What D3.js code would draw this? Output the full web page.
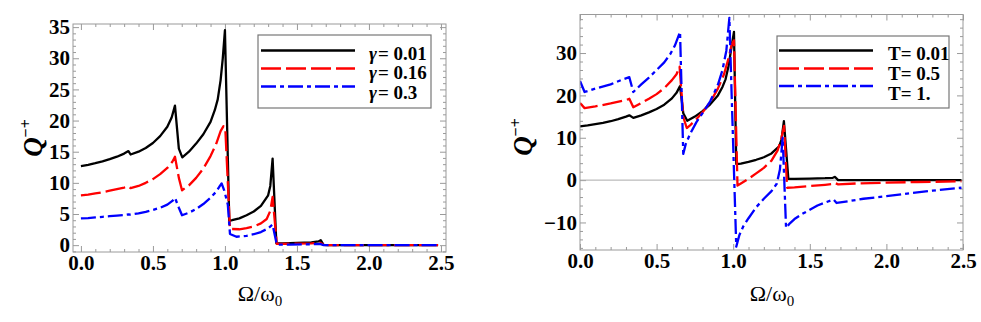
<!DOCTYPE html>
<html>
<head>
<meta charset="utf-8">
<script src="https://cdn.jsdelivr.net/npm/d3@7"></script>
<style>
  body { margin: 0; background: #fff; }
</style>
</head>
<body>
<svg id="chart" width="981" height="322"></svg>
<script>
"use strict";

// left panel: gamma series  [Omega/omega0, Q]
var gamma001 = [[0,12.7],[0.05,12.9],[0.1,13.15],[0.15,13.45],[0.2,13.8],[0.25,14.2],[0.3,14.7],[0.33,15.1],[0.345,14.55],[0.4,15.0],[0.45,15.6],[0.5,16.4],[0.55,17.5],[0.6,19.0],[0.63,20.5],[0.653,22.4],[0.68,15.5],[0.704,14.1],[0.75,15.0],[0.8,16.3],[0.85,17.8],[0.9,19.8],[0.93,21.7],[0.95,23.4],[0.97,26.5],[0.985,30],[1.0,34.5],[1.03,3.9],[1.05,4.0],[1.1,4.3],[1.15,4.8],[1.2,5.4],[1.25,6.3],[1.3,8.0],[1.315,9.5],[1.331,13.9],[1.357,0.3],[1.4,0.3],[1.5,0.35],[1.6,0.45],[1.65,0.6],[1.665,0.8],[1.685,0.05],[1.72,0],[2.48,0]];
var gamma016 = [[0,8.0],[0.05,8.1],[0.1,8.3],[0.15,8.5],[0.2,8.75],[0.25,9.0],[0.3,9.25],[0.33,9.45],[0.345,9.15],[0.4,9.5],[0.45,10.0],[0.5,10.6],[0.55,11.4],[0.6,12.4],[0.635,13.4],[0.653,14.2],[0.68,10.8],[0.702,8.8],[0.75,9.6],[0.8,10.8],[0.85,12.3],[0.9,14.3],[0.94,16.3],[0.97,18.3],[0.99,19.1],[1.003,18.5],[1.035,2.6],[1.1,2.55],[1.15,2.75],[1.2,3.0],[1.25,3.5],[1.29,4.2],[1.315,5.5],[1.331,7.75],[1.36,0.2],[1.4,0.2],[1.5,0.25],[1.6,0.3],[1.66,0.4],[1.685,0.05],[1.72,0],[2.48,0]];
var gamma03 = [[0,4.3],[0.05,4.35],[0.1,4.45],[0.15,4.55],[0.2,4.65],[0.25,4.75],[0.3,4.85],[0.33,4.95],[0.345,4.9],[0.4,5.1],[0.45,5.35],[0.5,5.65],[0.55,6.0],[0.6,6.5],[0.635,7.1],[0.653,7.6],[0.68,6.0],[0.702,4.8],[0.75,5.2],[0.8,5.8],[0.85,6.6],[0.9,7.6],[0.94,8.6],[0.965,9.5],[0.977,9.9],[0.995,8.8],[1.02,6.5],[1.035,1.8],[1.08,1.35],[1.15,1.5],[1.2,1.75],[1.25,2.1],[1.3,2.7],[1.331,3.3],[1.36,0.1],[1.45,0.1],[1.6,0.15],[1.66,0.2],[1.685,0],[2.48,0]];

// right panel: temperature series
var temp001 = [[0,12.7],[0.05,12.9],[0.1,13.2],[0.15,13.5],[0.2,13.9],[0.25,14.4],[0.3,15.0],[0.322,15.3],[0.348,14.7],[0.4,15.3],[0.45,16.0],[0.5,16.8],[0.55,17.8],[0.6,19.3],[0.63,20.6],[0.653,22.2],[0.674,15.8],[0.7,14.0],[0.75,15.0],[0.8,16.3],[0.85,17.9],[0.9,20.0],[0.93,22.0],[0.95,23.8],[0.97,27.0],[0.985,30.5],[1.005,35.0],[1.02,3.8],[1.05,3.9],[1.1,4.3],[1.15,4.8],[1.2,5.4],[1.25,6.3],[1.3,8.0],[1.315,9.5],[1.331,13.9],[1.36,0.3],[1.4,0.3],[1.5,0.35],[1.6,0.45],[1.65,0.55],[1.665,0.75],[1.685,0],[2.49,0]];
var temp05 = [[0,18.2],[0.03,17.0],[0.1,17.4],[0.2,18.1],[0.3,18.9],[0.322,19.2],[0.348,17.2],[0.4,18.2],[0.45,19.2],[0.5,20.3],[0.55,21.7],[0.6,23.6],[0.63,25.0],[0.65,26.8],[0.674,14.9],[0.697,12.3],[0.72,13.0],[0.75,14.0],[0.8,16.0],[0.85,18.4],[0.9,21.6],[0.94,25.0],[0.97,28.8],[0.99,32.0],[1.005,33.0],[1.028,-1.3],[1.05,-0.8],[1.1,0.3],[1.15,1.6],[1.2,2.9],[1.25,4.6],[1.29,7.0],[1.315,10.0],[1.332,12.8],[1.352,-1.8],[1.4,-1.7],[1.5,-1.4],[1.6,-1.1],[1.655,-0.9],[1.665,-0.7],[1.685,-1.0],[1.8,-0.8],[2.0,-0.6],[2.2,-0.45],[2.49,-0.3]];
var temp1 = [[0,23.4],[0.03,20.8],[0.1,21.6],[0.2,22.6],[0.28,23.8],[0.322,24.3],[0.348,20.8],[0.4,22.6],[0.45,24.2],[0.5,26.0],[0.55,27.8],[0.59,29.8],[0.62,31.8],[0.653,35.0],[0.674,6.2],[0.69,8.5],[0.72,11.0],[0.76,13.7],[0.8,15.8],[0.85,18.6],[0.9,22.5],[0.93,26.0],[0.955,30.5],[0.975,38.3],[0.99,20],[1.02,-15.7],[1.04,-13.0],[1.066,-10.9],[1.1,-9.0],[1.15,-6.4],[1.2,-4.4],[1.25,-2.6],[1.285,-0.8],[1.305,2.5],[1.323,10.0],[1.345,-11.3],[1.37,-10.2],[1.4,-9.2],[1.45,-8.0],[1.5,-7.0],[1.55,-6.0],[1.6,-5.3],[1.655,-4.6],[1.675,-5.4],[1.75,-5.0],[1.85,-4.4],[2.0,-3.8],[2.15,-3.1],[2.3,-2.5],[2.49,-1.8]];

var gammaLabels = ["0.01", "0.16", "0.3"];
var tempLabels = ["0.01", "0.5", "1."];

var xMajor = [0, 0.5, 1.0, 1.5, 2.0, 2.5];
var leftYMajor = [0, 5, 10, 15, 20, 25, 30, 35];
var rightYMajor = [-10, 0, 10, 20, 30];

var colors = ["#000000", "#ff0000", "#0000ff"];
var dashes = [null, "20,5", "15,4,4,4"];
var frameColor = "#9a9a9a";
var serif = '"Liberation Serif", "Times New Roman", Times, serif';

var svg = d3.select("#chart");

function range(a, b, step) {
  var out = [];
  for (var i = 0; a + i * step <= b + 1e-9; i++) out.push(+(a + i * step).toFixed(3));
  return out;
}

function panel(opt) {
  var x = d3.scaleLinear().domain(opt.xDomain).range([opt.left, opt.right]);
  var y = d3.scaleLinear().domain(opt.yDomain).range([opt.bottom, opt.top]);
  var g = svg.append("g");

  var xMinor = range(0, 2.5, 0.1).filter(v => xMajor.indexOf(v) < 0);
  var yMinor = opt.yMinor.filter(v => opt.yMajor.indexOf(v) < 0);

  function ticks(axisFn, scale, vals, size, pos, labels, fmt) {
    var a = axisFn(scale).tickValues(vals).tickSizeInner(-size).tickSizeOuter(0).tickPadding(labels ? opt.pad : 0)
      .tickFormat(labels ? fmt : "");
    var ax = g.append("g").attr("transform", pos).call(a);
    ax.select(".domain").remove();
    ax.attr("font-family", null).attr("font-size", null);
    ax.selectAll("line").attr("stroke", frameColor);
    ax.selectAll("text").attr("font-size", 21).attr("font-weight", "bold").attr("fill", "#000");
    if (!labels) ax.selectAll("text").remove();
    return ax;
  }

  var fx = d3.format(".1f"), fy = d3.format("d");
  ticks(d3.axisBottom, x, xMajor, 6, "translate(0," + opt.bottom + ")", true, fx);
  ticks(d3.axisBottom, x, xMinor, 3, "translate(0," + opt.bottom + ")", false);
  ticks(d3.axisTop, x, xMajor, 6, "translate(0," + opt.top + ")", false);
  ticks(d3.axisTop, x, xMinor, 3, "translate(0," + opt.top + ")", false);
  ticks(d3.axisLeft, y, opt.yMajor, 6, "translate(" + opt.left + ",0)", true, fy);
  ticks(d3.axisLeft, y, yMinor, 3, "translate(" + opt.left + ",0)", false);
  ticks(d3.axisRight, y, opt.yMajor, 6, "translate(" + opt.right + ",0)", false);
  ticks(d3.axisRight, y, yMinor, 3, "translate(" + opt.right + ",0)", false);

  var clipId = "clip" + opt.id;
  svg.append("clipPath").attr("id", clipId).append("rect")
    .attr("x", opt.left).attr("y", opt.top).attr("width", opt.right - opt.left).attr("height", opt.bottom - opt.top);

  if (opt.zeroLine) {
    g.append("line").attr("x1", opt.left).attr("x2", opt.right)
      .attr("y1", y(0)).attr("y2", y(0)).attr("stroke", "#aaaaaa").attr("stroke-width", 1);
  }

  var line = d3.line().x(d => x(d[0])).y(d => y(d[1]));
  var curves = g.append("g").attr("clip-path", "url(#" + clipId + ")");
  opt.series.forEach(function (s, i) {
    curves.append("path").datum(s)
      .attr("d", line)
      .attr("fill", "none")
      .attr("stroke", colors[i])
      .attr("stroke-width", 2.3)
      .attr("stroke-linejoin", "round")
      .attr("stroke-dasharray", dashes[i]);
  });

  g.append("rect").attr("x", opt.left).attr("y", opt.top)
    .attr("width", opt.right - opt.left).attr("height", opt.bottom - opt.top)
    .attr("fill", "none").attr("stroke", frameColor).attr("stroke-width", 1);

  // legend
  var L = opt.legend;
  g.append("rect").attr("x", L.x).attr("y", L.y).attr("width", L.w).attr("height", L.h)
    .attr("fill", "#fff").attr("stroke", "#777").attr("stroke-width", 1.2);
  opt.labels.forEach(function (lab, i) {
    g.append("line").attr("x1", L.lineX1).attr("x2", L.lineX2)
      .attr("y1", L.lineY[i]).attr("y2", L.lineY[i])
      .attr("stroke", colors[i]).attr("stroke-width", 2.3).attr("stroke-dasharray", dashes[i]);
    var t = g.append("text").attr("x", L.textX).attr("y", L.textY[i])
      .attr("font-size", 19).attr("font-weight", "bold");
    if (opt.symbol === "γ") {
      t.append("tspan").attr("font-style", "italic").text("γ");
      t.append("tspan").attr("dx", 1).text("= " + lab);
    } else {
      t.text("T= " + lab);
    }
  });

  // axis titles
  var yl = g.append("text").attr("transform", "translate(" + opt.yTitleX + "," + opt.yTitleY + ") rotate(-90)")
    .attr("text-anchor", "middle");
  yl.append("tspan").attr("font-style", "italic").attr("font-weight", "bold").attr("font-size", 27).text("Q");
  yl.append("tspan").attr("font-weight", "bold").attr("font-size", 16).attr("dy", -11).text("−+");

  var xl = g.append("text").attr("x", opt.xTitleX).attr("y", 301).attr("text-anchor", "middle")
    .attr("font-size", 22);
  xl.append("tspan").text("Ω/ω");
  xl.append("tspan").attr("font-size", 15).attr("dy", 5).text("0");
}

panel({
  id: "L", left: 73, right: 446, top: 24, bottom: 252,
  xDomain: [-0.055, 2.535], yDomain: [-1.1, 35.5],
  yMajor: leftYMajor, yMinor: range(-1, 35, 1), pad: 3,
  series: [gamma001, gamma016, gamma03], labels: gammaLabels, symbol: "γ",
  legend: { x: 258, y: 35, w: 173, h: 73, lineX1: 261, lineX2: 355, lineY: [50.5, 68.5, 86.5], textX: 369, textY: [59.5, 79, 98.5] },
  yTitleX: 42, yTitleY: 138, xTitleX: 260, zeroLine: false
});

panel({
  id: "R", left: 580, right: 963, top: 14.5, bottom: 250,
  xDomain: [0, 2.5], yDomain: [-16.5, 39.1],
  yMajor: rightYMajor, yMinor: range(-16, 38, 2), pad: 3,
  series: [temp001, temp05, temp1], labels: tempLabels, symbol: "T",
  legend: { x: 777, y: 36, w: 172, h: 72, lineX1: 779, lineX2: 873, lineY: [50.5, 68.5, 86], textX: 888, textY: [59.5, 80, 100] },
  yTitleX: 532, yTitleY: 137, xTitleX: 772, zeroLine: true
});

svg.selectAll("text").attr("font-family", serif).style("font-family", serif);
</script>
</body>
</html>
